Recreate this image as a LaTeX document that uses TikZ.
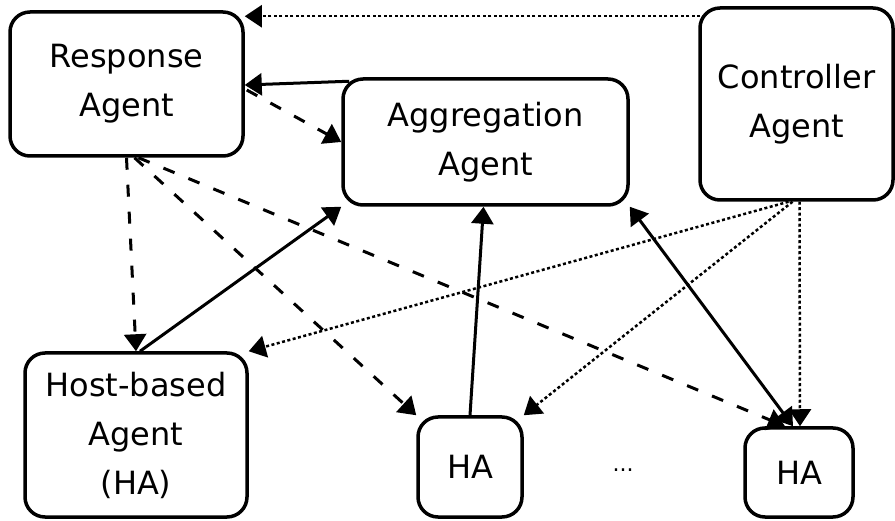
\documentclass[tikz,border=0pt]{standalone}
\usepackage{fontspec}
\setmainfont{DejaVu Sans}
\usetikzlibrary{arrows.meta,calc}
\begin{document}
\begin{tikzpicture}[x=1pt,y=-1pt,>={Triangle[length=17pt,width=22pt]},
		agent/.style={draw,rounded corners=20pt,line width=3.5pt,align=center,inner sep=0pt,font=\fontsize{32}{49}\selectfont},
		solidline/.style={->,line width=3pt},
		dashline/.style={->,line width=3pt,dash pattern=on 12pt off 15pt},
		dotline/.style={->,line width=2.5pt,dash pattern=on 3pt off 2.5pt}]
				\useasboundingbox (0,0) rectangle (895,521);
				\node[agent,minimum width=233pt,minimum height=144pt] (resp) at (126.5,84) {Response\\Agent};
				\node[agent,minimum width=285pt,minimum height=126pt] (aggr) at (485.5,142) {Aggregation\\Agent};
				\node[agent,minimum width=193pt,minimum height=192pt] (ctrl) at (796.5,104) {Controller\\Agent};
				\node[agent,minimum width=222pt,minimum height=164pt] (host) at (136,435) {Host-based\\Agent\\(HA)};
				\node[agent,minimum width=104pt,minimum height=100pt] (hamid) at (470,467) {HA};
				\node[agent,minimum width=108pt,minimum height=89pt] (haend) at (799,472.5) {HA};
				\node[font=\fontsize{22}{26}\selectfont] (gap) at (623,470) {...};
				\draw[dotline] ($(ctrl.north west)+(2,10)$) -- ($(resp.north east)+(0,6)$);
				\draw[solidline] ($(aggr.north west)+(8,4)$) -- ($(resp.east)+(0,1)$);
				\draw[dashline] ($(resp.east)+(2,6)$) -- (aggr.west);
				\draw[dashline] (resp.south) -- (host.north);
				\draw[dashline] ($(resp.south)+(8,0)$) -- (hamid.north west);
				\draw[dashline] ($(resp.south)+(12,0)$) -- ($(haend.north)+(-14,0)$);
				\draw[solidline] ($(host.north)+(4,0)$) -- (aggr.south west);
				\draw[solidline] (hamid.north) -- ($(aggr.south)+(-2,0)$);
				\draw[solidline,<->] (aggr.south east) -- ($(haend.north)+(-6,0)$);
				\draw[dotline] ($(ctrl.south)+(-8,0)$) -- (host.north east);
				\draw[dotline] ($(ctrl.south)+(-4,0)$) -- (hamid.north east);
				\draw[dotline] ($(ctrl.south)+(3,0)$) -- ($(haend.north)+(1,0)$);
			\end{tikzpicture}
\end{document}
